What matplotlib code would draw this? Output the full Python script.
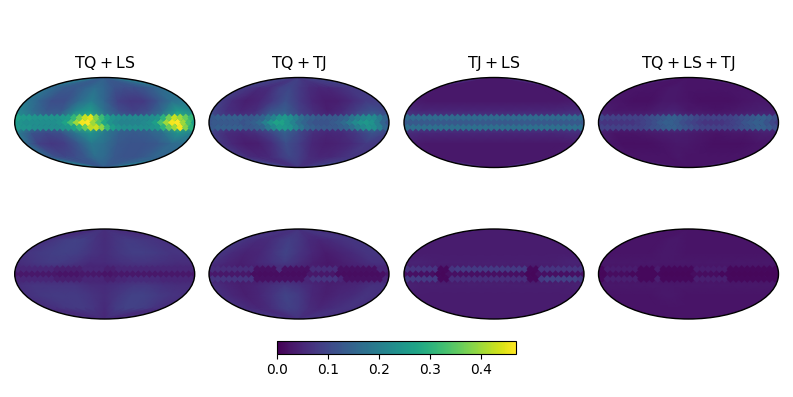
import numpy as np
import matplotlib
matplotlib.use('Agg')
import matplotlib.pyplot as plt

titles = [r'$\mathrm{TQ + LS}$', r'$\mathrm{TQ + TJ}$', r'$\mathrm{TJ + LS}$', r'$\mathrm{TQ + LS + TJ}$']
cbar_ticks = [0.0, 0.1, 0.2, 0.3, 0.4]
vmax = 0.469

# smooth part of each map, rows north to south, columns lon -180..180
lat_nodes = [90, 60, 35, 18, 0, -18, -35, -60, -90]
lon_nodes = [-180, -150, -120, -90, -60, -30, 0, 30, 60, 90, 120, 150, 180]

bg_a1 = [[.14, .14, .14, .14, .14, .14, .14, .14, .14, .14, .14, .14, .14],
         [.17, .15, .13, .13, .15, .17, .15, .12, .11, .11, .12, .14, .17],
         [.19, .15, .11, .11, .16, .20, .15, .09, .075, .08, .12, .17, .19],
         [.22, .17, .13, .13, .22, .26, .17, .11, .09, .11, .17, .26, .22],
         [.25, .20, .17, .18, .30, .33, .20, .17, .15, .16, .22, .34, .25],
         [.20, .12, .10, .11, .18, .24, .19, .14, .13, .14, .17, .24, .20],
         [.17, .09, .075, .085, .13, .19, .17, .13, .12, .12, .13, .16, .17],
         [.15, .11, .10, .11, .13, .17, .16, .13, .12, .12, .13, .15, .15],
         [.14, .14, .14, .14, .14, .14, .14, .14, .14, .14, .14, .14, .14]]
bg_a2 = [[.085, .085, .085, .085, .085, .085, .085, .085, .085, .085, .085, .085, .085],
         [.08, .07, .055, .06, .09, .10, .08, .06, .05, .05, .06, .07, .08],
         [.085, .055, .04, .05, .08, .115, .08, .05, .035, .04, .055, .08, .085],
         [.10, .065, .05, .06, .12, .14, .09, .06, .04, .055, .09, .12, .10],
         [.12, .09, .08, .10, .16, .19, .11, .08, .07, .08, .13, .19, .12],
         [.09, .06, .05, .06, .09, .14, .10, .06, .05, .055, .08, .12, .09],
         [.075, .05, .035, .04, .065, .11, .085, .05, .04, .045, .055, .08, .075],
         [.075, .055, .05, .055, .08, .10, .085, .06, .05, .05, .06, .07, .075],
         [.075, .075, .075, .075, .075, .075, .075, .075, .075, .075, .075, .075, .075]]
bg_a3 = [[.03, .03, .03, .03, .03, .03, .03, .03, .03, .03, .03, .03, .03],
         [.03, .03, .03, .03, .03, .03, .03, .03, .03, .03, .03, .03, .03],
         [.035, .03, .03, .03, .03, .03, .03, .03, .03, .03, .03, .03, .035],
         [.06, .05, .05, .05, .05, .05, .05, .05, .05, .05, .05, .055, .06],
         [.11, .10, .10, .10, .10, .10, .10, .10, .10, .10, .10, .10, .11],
         [.06, .05, .05, .05, .05, .05, .05, .05, .05, .05, .05, .055, .06],
         [.035, .03, .03, .03, .03, .03, .03, .03, .03, .03, .03, .03, .035],
         [.03, .03, .03, .03, .03, .03, .03, .03, .03, .03, .03, .03, .03],
         [.03, .03, .03, .03, .03, .03, .03, .03, .03, .03, .03, .03, .03]]
bg_a4 = [[.025, .025, .025, .025, .025, .025, .025, .025, .025, .025, .025, .025, .025],
         [.025, .025, .025, .025, .03, .03, .025, .025, .025, .025, .025, .025, .025],
         [.03, .025, .02, .02, .03, .03, .025, .02, .02, .02, .025, .03, .03],
         [.04, .03, .03, .03, .04, .045, .03, .03, .025, .03, .035, .04, .04],
         [.07, .06, .06, .06, .08, .09, .07, .06, .05, .06, .07, .08, .07],
         [.04, .025, .025, .03, .035, .04, .035, .03, .025, .03, .03, .04, .04],
         [.03, .02, .02, .02, .025, .03, .03, .025, .02, .02, .02, .025, .03],
         [.025, .025, .025, .025, .025, .03, .025, .025, .025, .025, .025, .025, .025],
         [.025, .025, .025, .025, .025, .025, .025, .025, .025, .025, .025, .025, .025]]
bg_b1 = [[.06, .06, .06, .06, .06, .06, .06, .06, .06, .06, .06, .06, .06],
         [.065, .075, .085, .09, .085, .07, .06, .07, .08, .08, .075, .07, .065],
         [.07, .08, .085, .09, .085, .07, .06, .075, .085, .085, .08, .07, .07],
         [.06, .07, .08, .08, .07, .055, .055, .065, .07, .07, .065, .06, .06],
         [.04, .045, .045, .04, .035, .035, .035, .04, .045, .04, .04, .04, .04],
         [.06, .07, .07, .07, .07, .06, .055, .065, .075, .075, .065, .06, .06],
         [.065, .075, .08, .08, .08, .07, .06, .075, .09, .09, .08, .07, .065],
         [.06, .065, .075, .08, .08, .07, .055, .08, .09, .09, .085, .07, .06],
         [.05, .05, .05, .05, .05, .05, .05, .05, .05, .05, .05, .05, .05]]
bg_b2 = [[.07, .07, .07, .07, .07, .07, .07, .07, .07, .07, .07, .07, .07],
         [.075, .065, .055, .06, .075, .085, .075, .055, .05, .055, .065, .07, .075],
         [.075, .055, .045, .05, .07, .095, .07, .05, .035, .045, .055, .07, .075],
         [.065, .05, .04, .05, .065, .08, .06, .04, .03, .04, .05, .065, .065],
         [.04, .035, .03, .03, .03, .035, .03, .035, .03, .03, .03, .03, .04],
         [.065, .05, .04, .045, .06, .075, .065, .05, .04, .045, .05, .065, .065],
         [.065, .05, .04, .05, .07, .095, .08, .05, .04, .05, .055, .07, .065],
         [.065, .055, .05, .06, .08, .09, .08, .06, .05, .055, .065, .07, .065],
         [.065, .065, .065, .065, .065, .065, .065, .065, .065, .065, .065, .065, .065]]
bg_b3 = [[.035, .035, .035, .035, .035, .035, .035, .035, .035, .035, .035, .035, .035],
         [.035, .035, .035, .035, .035, .035, .035, .035, .035, .035, .035, .035, .035],
         [.035, .035, .035, .035, .035, .035, .035, .035, .035, .035, .035, .035, .035],
         [.045, .045, .04, .04, .04, .04, .04, .04, .04, .04, .04, .045, .045],
         [.03, .03, .025, .025, .03, .03, .03, .03, .025, .025, .03, .03, .03],
         [.045, .04, .04, .04, .04, .04, .04, .04, .04, .04, .04, .04, .045],
         [.035, .035, .035, .035, .035, .035, .035, .035, .035, .035, .035, .035, .035],
         [.035, .035, .035, .035, .035, .035, .035, .035, .035, .035, .035, .035, .035],
         [.035, .035, .035, .035, .035, .035, .035, .035, .035, .035, .035, .035, .035]]
bg_b4 = [[.025, .025, .025, .025, .025, .025, .025, .025, .025, .025, .025, .025, .025],
         [.025, .025, .025, .025, .03, .03, .025, .025, .025, .025, .025, .025, .025],
         [.025, .025, .025, .025, .03, .03, .025, .025, .025, .025, .025, .025, .025],
         [.03, .03, .03, .03, .03, .03, .03, .03, .03, .03, .03, .03, .03],
         [.02, .02, .02, .02, .02, .02, .02, .02, .02, .02, .02, .02, .02],
         [.03, .03, .03, .03, .03, .03, .03, .03, .03, .03, .03, .03, .03],
         [.025, .025, .025, .025, .03, .03, .025, .025, .025, .025, .025, .025, .025],
         [.025, .025, .025, .025, .025, .025, .025, .025, .025, .025, .025, .025, .025],
         [.025, .025, .025, .025, .025, .025, .025, .025, .025, .025, .025, .025, .025]]

# the diamonds of the equatorial band, 32 per row, west to east
top_a1 = [.27, .25, .25, .24, .24, .24, .24, .24, .25, .26, .31, .37, .43, .45, .38, .32, .27, .24, .23, .22, .22, .22, .22, .22, .23, .24, .30, .37, .43, .40, .36, .31]
mid_a1 = [.26, .24, .23, .23, .23, .23, .23, .23, .24, .27, .33, .40, .46, .47, .40, .34, .28, .24, .22, .21, .21, .21, .21, .22, .23, .26, .33, .40, .46, .47, .40, .33]
bot_a1 = [.25, .24, .24, .23, .23, .23, .23, .23, .24, .25, .27, .31, .36, .42, .43, .39, .31, .26, .24, .23, .23, .23, .23, .23, .24, .25, .30, .36, .40, .46, .38, .30]
top_a2 = [.13, .14, .14, .14, .14, .14, .13, .13, .14, .15, .18, .21, .24, .25, .23, .20, .17, .15, .14, .13, .13, .13, .13, .14, .15, .18, .20, .22, .23, .22, .19, .15]
mid_a2 = [.12, .13, .13, .13, .13, .13, .12, .13, .14, .16, .20, .24, .27, .27, .24, .21, .17, .15, .13, .12, .12, .12, .13, .14, .16, .19, .22, .24, .25, .24, .20, .15]
bot_a2 = [.13, .14, .14, .14, .14, .14, .13, .13, .14, .15, .19, .22, .25, .25, .24, .21, .18, .15, .14, .13, .13, .13, .13, .14, .15, .17, .20, .22, .24, .23, .20, .15]
top_a3 = [.16, .16, .16, .16, .16, .16, .16, .16, .16, .16, .16, .16, .16, .16, .16, .16, .16, .16, .16, .16, .16, .16, .16, .16, .16, .16, .16, .16, .16, .16, .16, .16]
mid_a3 = [.13, .13, .13, .13, .13, .13, .13, .13, .13, .13, .13, .13, .13, .13, .13, .13, .13, .13, .13, .13, .13, .13, .13, .13, .13, .13, .13, .13, .13, .13, .13, .13]
bot_a3 = [.17, .17, .17, .17, .17, .17, .17, .17, .17, .17, .17, .17, .17, .17, .17, .17, .17, .17, .17, .17, .17, .17, .17, .17, .17, .17, .17, .17, .17, .17, .17, .17]
top_a4 = [.10, .09, .09, .09, .09, .09, .09, .09, .10, .11, .12, .13, .14, .14, .13, .12, .11, .10, .09, .09, .09, .09, .09, .09, .10, .11, .12, .13, .14, .14, .13, .11]
mid_a4 = [.08, .07, .07, .07, .07, .07, .07, .08, .09, .10, .11, .13, .14, .14, .13, .11, .10, .09, .08, .07, .07, .07, .07, .08, .09, .10, .12, .13, .14, .14, .12, .10]
bot_a4 = [.09, .09, .09, .09, .09, .09, .09, .09, .10, .11, .12, .13, .14, .14, .13, .12, .11, .10, .09, .09, .09, .09, .09, .09, .10, .11, .12, .13, .14, .14, .13, .11]
top_b1 = [.05, .05, .05, .05, .05, .05, .05, .04, .04, .04, .04, .04, .05, .05, .05, .05, .04, .04, .05, .05, .05, .05, .05, .05, .05, .05, .05, .05, .05, .05, .05, .05]
mid_b1 = [.03, .03, .03, .03, .03, .03, .03, .03, .025, .025, .025, .025, .03, .03, .03, .03, .025, .025, .03, .03, .03, .03, .03, .03, .03, .03, .03, .03, .03, .03, .03, .03]
bot_b1 = [.05, .05, .05, .05, .05, .05, .05, .04, .04, .04, .04, .04, .05, .05, .05, .05, .04, .04, .05, .05, .055, .055, .055, .055, .055, .055, .05, .05, .05, .05, .05, .05]
top_b2 = [.06, .06, .06, .06, .06, .06, .06, .06, .02, .02, .02, .02, .06, .02, .02, .02, .02, .02, .06, .06, .06, .06, .06, .02, .02, .02, .02, .02, .02, .02, .05, .05]
mid_b2 = [.03, .03, .03, .03, .03, .03, .03, .03, .015, .015, .015, .015, .015, .015, .015, .015, .015, .015, .03, .03, .03, .03, .03, .015, .015, .015, .015, .015, .015, .015, .015, .02]
bot_b2 = [.07, .07, .07, .07, .07, .07, .07, .07, .02, .02, .02, .02, .02, .02, .02, .02, .02, .05, .07, .07, .07, .07, .07, .05, .02, .02, .02, .02, .02, .02, .02, .05]
top_b3 = [.07, .07, .07, .07, .07, .07, .01, .01, .07, .08, .08, .08, .08, .08, .08, .08, .08, .08, .08, .08, .08, .08, .01, .01, .07, .07, .07, .07, .07, .07, .07, .07]
mid_b3 = [.02, .02, .02, .02, .02, .02, .008, .008, .02, .02, .02, .02, .02, .02, .02, .02, .02, .02, .02, .02, .02, .02, .008, .008, .02, .02, .02, .02, .02, .02, .02, .02]
bot_b3 = [.08, .08, .08, .08, .08, .08, .01, .01, .06, .06, .06, .06, .06, .06, .06, .06, .06, .06, .06, .06, .06, .06, .01, .01, .08, .09, .09, .09, .09, .09, .09, .08]
top_b4 = [.01, .035, .035, .035, .035, .035, .035, .01, .01, .01, .035, .01, .01, .01, .01, .01, .01, .035, .035, .035, .035, .035, .035, .01, .01, .01, .01, .01, .01, .01, .01, .01]
mid_b4 = [.008, .008, .015, .015, .015, .015, .01, .01, .01, .01, .01, .01, .008, .008, .008, .008, .008, .015, .015, .015, .015, .015, .01, .01, .008, .008, .008, .008, .008, .008, .008, .008]
bot_b4 = [.01, .04, .04, .04, .04, .04, .04, .01, .01, .01, .04, .01, .01, .01, .01, .01, .01, .04, .04, .04, .04, .04, .04, .01, .01, .01, .01, .01, .01, .01, .01, .01]

W, H = 793, 397
x_left = [14.7, 209, 404, 598.5]
y_top = [77.5, 229]
map_w, map_h = 180, 90

backgrounds = [[bg_a1, bg_a2, bg_a3, bg_a4], [bg_b1, bg_b2, bg_b3, bg_b4]]
tops = [[top_a1, top_a2, top_a3, top_a4], [top_b1, top_b2, top_b3, top_b4]]
mids = [[mid_a1, mid_a2, mid_a3, mid_a4], [mid_b1, mid_b2, mid_b3, mid_b4]]
bots = [[bot_a1, bot_a2, bot_a3, bot_a4], [bot_b1, bot_b2, bot_b3, bot_b4]]

fig = plt.figure(figsize=(W / 100, H / 100), dpi=100)
norm = plt.Normalize(0, vmax)
cmap = plt.get_cmap('viridis')

lon_grid, lat_grid = np.meshgrid(np.radians(lon_nodes), np.radians(lat_nodes))
# diamond centres, the two outer rows sit half a step from the middle one
step = 360 / 32
lon_outer = np.radians(-180 + step * (np.arange(32) + 0.5))
lon_mid = np.radians(-180 + step * np.arange(33))

im = None
for row in range(2):
    for col in range(4):
        rect = [x_left[col] / W, 1 - (y_top[row] + map_h) / H, map_w / W, map_h / H]
        ax = fig.add_axes(rect, projection='mollweide')
        bg = np.array(backgrounds[row][col])
        # slivers left at the limb by the coarse mesh get the rim colour
        ax.set_facecolor(cmap(norm(bg[:, [0, -1]].mean())))
        im = ax.pcolormesh(lon_grid, lat_grid, bg, shading='gouraud', cmap=cmap, norm=norm, rasterized=True)
        mid = mids[row][col]
        ax.scatter(lon_mid, np.zeros(33), c=mid + mid[:1], s=18, marker='D', linewidths=0, cmap=cmap, norm=norm)
        for lat, vals in [(8, tops[row][col]), (-8, bots[row][col])]:
            ax.scatter(lon_outer, np.full(32, np.radians(lat)), c=vals, s=16, marker='D', linewidths=0, cmap=cmap, norm=norm)
        ax.grid(False)
        ax.set_xticklabels([])
        ax.set_yticklabels([])
        ax.tick_params(length=0)
        for spine in ax.spines.values():
            spine.set_linewidth(1.0)
        if row == 0:
            ax.set_title(titles[col], fontsize=11.3, pad=7)

cax = fig.add_axes([277.3 / W, 1 - 353.5 / H, 238.4 / W, 12.2 / H])
cb = fig.colorbar(im, cax=cax, orientation='horizontal', ticks=cbar_ticks)
cb.ax.tick_params(labelsize=10)

fig.savefig('out.png', dpi=100)
plt.close('all')
